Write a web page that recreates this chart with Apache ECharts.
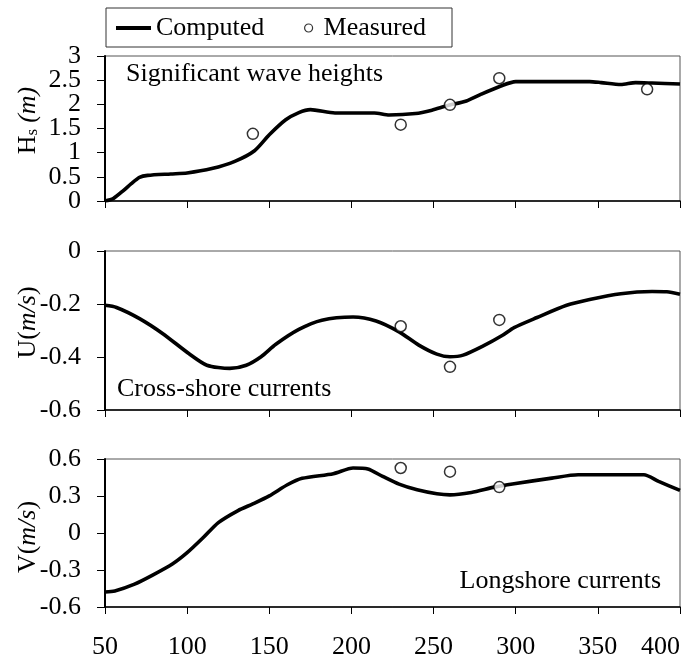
<!DOCTYPE html>
<html><head><meta charset="utf-8">
<script src="https://cdn.jsdelivr.net/npm/echarts@6/dist/echarts.min.js"></script>
<style>html,body{margin:0;padding:0;background:#fff}#c{width:694px;height:661px}</style>
</head><body><div id="c"></div>
<script>
// ---- data ----
const xMin = 50, xMax = 400, xStep = 50;
const hsTicksWhole = [0, 1, 2, 3];
const hsTicksHalf = [0.5, 1.5, 2.5];

const hsCompX = [50, 55, 61, 66, 71, 76, 90, 100, 115, 129, 141, 150, 160, 168, 175, 190, 214, 223, 239, 249, 258, 270, 279, 291, 300, 345, 352, 364, 373, 383, 400];
const hsCompY = [0.0, 0.05, 0.21, 0.36, 0.49, 0.53, 0.56, 0.58, 0.67, 0.82, 1.04, 1.37, 1.68, 1.83, 1.89, 1.82, 1.82, 1.78, 1.81, 1.88, 1.97, 2.07, 2.21, 2.38, 2.47, 2.47, 2.45, 2.41, 2.45, 2.44, 2.42];
const hsMeasX = [140, 230, 260, 290, 380];
const hsMeasY = [1.39, 1.58, 1.99, 2.54, 2.31];

const uCompX = [50, 57, 71, 85, 101, 112, 126, 136, 145, 154, 168, 182, 201, 215, 229, 241, 252, 260, 268, 280, 292, 299, 313, 331, 345, 364, 383, 392, 400];
const uCompY = [-0.205, -0.213, -0.255, -0.311, -0.387, -0.431, -0.443, -0.431, -0.399, -0.352, -0.296, -0.261, -0.249, -0.264, -0.305, -0.355, -0.389, -0.399, -0.393, -0.359, -0.318, -0.289, -0.251, -0.205, -0.183, -0.161, -0.153, -0.154, -0.163];
const uMeasX = [230, 260, 290];
const uMeasY = [-0.284, -0.437, -0.260];

const vCompX = [50, 56, 68, 79, 91, 100, 110, 119, 131, 140, 150, 161, 170, 189, 201, 210, 219, 229, 240, 252, 260, 273, 287, 299, 322, 338, 378, 387, 400];
const vCompY = [-0.478, -0.47, -0.415, -0.342, -0.252, -0.160, -0.035, 0.084, 0.182, 0.236, 0.301, 0.391, 0.443, 0.481, 0.527, 0.519, 0.459, 0.396, 0.350, 0.318, 0.309, 0.329, 0.372, 0.399, 0.445, 0.472, 0.472, 0.418, 0.345];
const vMeasX = [230, 260, 290];
const vMeasY = [0.527, 0.497, 0.372];

const panelTitles = ['Significant wave heights', 'Cross-shore currents', 'Longshore currents'];

// ---- build ----
const zip = (xs, ys) => xs.map((x, i) => [x, ys[i]]);
const FONT = 'Liberation Serif';
const FS = 26;

const grids = [
  {left: 105, right: 14, top: 56, height: 145},
  {left: 105, right: 14, top: 251, height: 159},
  {left: 105, right: 14, top: 459, height: 148}
].map(g => Object.assign(g, {show: true, borderColor: '#555', borderWidth: 1, outerBoundsMode: 'none'}));

const xAxes = [0, 1, 2].map(i => ({
  type: 'value', gridIndex: i, min: xMin, max: xMax, interval: xStep,
  axisLine: {show: true, onZero: false, lineStyle: {color: '#000', width: 1.5}},
  axisTick: {show: true, inside: false, length: 7, lineStyle: {color: '#000', width: 1}},
  axisLabel: {show: i === 2, color: '#000', fontFamily: FONT, fontSize: FS, margin: 27,
              alignMaxLabel: 'right', showMinLabel: true, showMaxLabel: true, hideOverlap: false},
  splitLine: {show: false}
}));

const yRanges = [[0, 3, 0.5], [-0.6, 0, 0.2], [-0.6, 0.6, 0.3]];
const yNames = ['{t0|H}{sub|s}{it|(m)}', '{u0|U(}{it|m/s}{t|)}', '{t|V(}{it|m/s}{v1|)}'];
const richName = {
  t: {fontFamily: FONT, fontSize: FS, color: '#000'},
  t0: {fontFamily: FONT, fontSize: FS, color: '#000', padding: [0, 0, 0, 16]},
  u0: {fontFamily: FONT, fontSize: FS, color: '#000', padding: [0, 0, 0, 16]},
  v1: {fontFamily: FONT, fontSize: FS, color: '#000', padding: [0, 8, 0, 0]},
  sub: {fontFamily: FONT, fontSize: 17, color: '#000', verticalAlign: 'bottom', padding: [0, 6, 0, 0]},
  it: {fontFamily: FONT, fontSize: FS, color: '#000', fontStyle: 'italic'}
};
const yAxes = yRanges.map((r, i) => {
  const label = {color: '#000', fontFamily: FONT, fontSize: FS, margin: 24,
                 showMinLabel: true, showMaxLabel: true, hideOverlap: false};
  if (i === 0) label.customValues = hsTicksWhole;
  return {
    type: 'value', gridIndex: i, position: 'left', offset: 0, min: r[0], max: r[1], interval: r[2],
    name: yNames[i], nameLocation: 'middle', nameRotate: 90, nameGap: 64, nameMoveOverlap: false,
    nameTextStyle: {color: '#000', fontFamily: FONT, fontSize: FS, rich: richName},
    axisLine: {show: true, onZero: false, lineStyle: {color: '#000', width: 2}},
    axisTick: {show: true, inside: false, length: 8, lineStyle: {color: '#000', width: 1}},
    axisLabel: label,
    splitLine: {show: false}
  };
});
// extra label-only axis for the half-unit ticks of the top panel
yAxes.push({
  type: 'value', gridIndex: 0, position: 'left', offset: 0, min: yRanges[0][0], max: yRanges[0][1], interval: yRanges[0][2],
  axisLine: {show: false}, axisTick: {show: false}, splitLine: {show: false},
  axisLabel: {color: '#000', fontFamily: FONT, fontSize: FS, margin: 24, customValues: hsTicksHalf,
              showMinLabel: true, showMaxLabel: true, hideOverlap: false}
});

const comp = [zip(hsCompX, hsCompY), zip(uCompX, uCompY), zip(vCompX, vCompY)];
const meas = [zip(hsMeasX, hsMeasY), zip(uMeasX, uMeasY), zip(vMeasX, vMeasY)];
const series = [];
for (let i = 0; i < 3; i++) {
  series.push({
    name: 'Computed', type: 'line', xAxisIndex: i, yAxisIndex: i, data: comp[i],
    smooth: 0.25, symbol: 'none', showSymbol: false,
    lineStyle: {color: '#000', width: 3.6}, itemStyle: {color: '#000'}, z: 2
  });
  series.push({
    name: 'Measured', type: 'scatter', xAxisIndex: i, yAxisIndex: i, data: meas[i],
    symbol: 'circle', symbolSize: 11,
    itemStyle: {color: '#fff', borderColor: '#000', borderWidth: 1.5}, z: 3
  });
}

const legendText = {color: '#000', fontFamily: FONT, fontSize: FS};
const option = {
  animation: false,
  backgroundColor: '#fff',
  grid: grids, xAxis: xAxes, yAxis: yAxes, series: series,
  legend: [
    {data: ['Computed'], left: 116, top: 15, itemWidth: 35, itemHeight: 4, icon: 'rect',
     padding: 0, textStyle: legendText, itemStyle: {color: '#000'}, selectedMode: false},
    {data: ['Measured'], left: 304, top: 15, itemWidth: 20, itemHeight: 8, icon: 'circle',
     padding: 0, textStyle: legendText, itemStyle: {color: '#fff', borderColor: '#000', borderWidth: 1.2}, selectedMode: false}
  ],
  graphic: [
    {type: 'rect', shape: {x: 106, y: 8, width: 346, height: 39}, style: {fill: 'none', stroke: '#333', lineWidth: 1}, z: 10},
    {type: 'text', left: 126, top: 61, style: {text: panelTitles[0], font: FS + 'px "' + FONT + '"', fill: '#000'}},
    {type: 'text', left: 117, top: 376, style: {text: panelTitles[1], font: FS + 'px "' + FONT + '"', fill: '#000'}},
    {type: 'text', right: 33, top: 568, style: {text: panelTitles[2], font: FS + 'px "' + FONT + '"', fill: '#000'}}
  ]
};
echarts.init(document.getElementById('c')).setOption(option);
</script></body></html>
